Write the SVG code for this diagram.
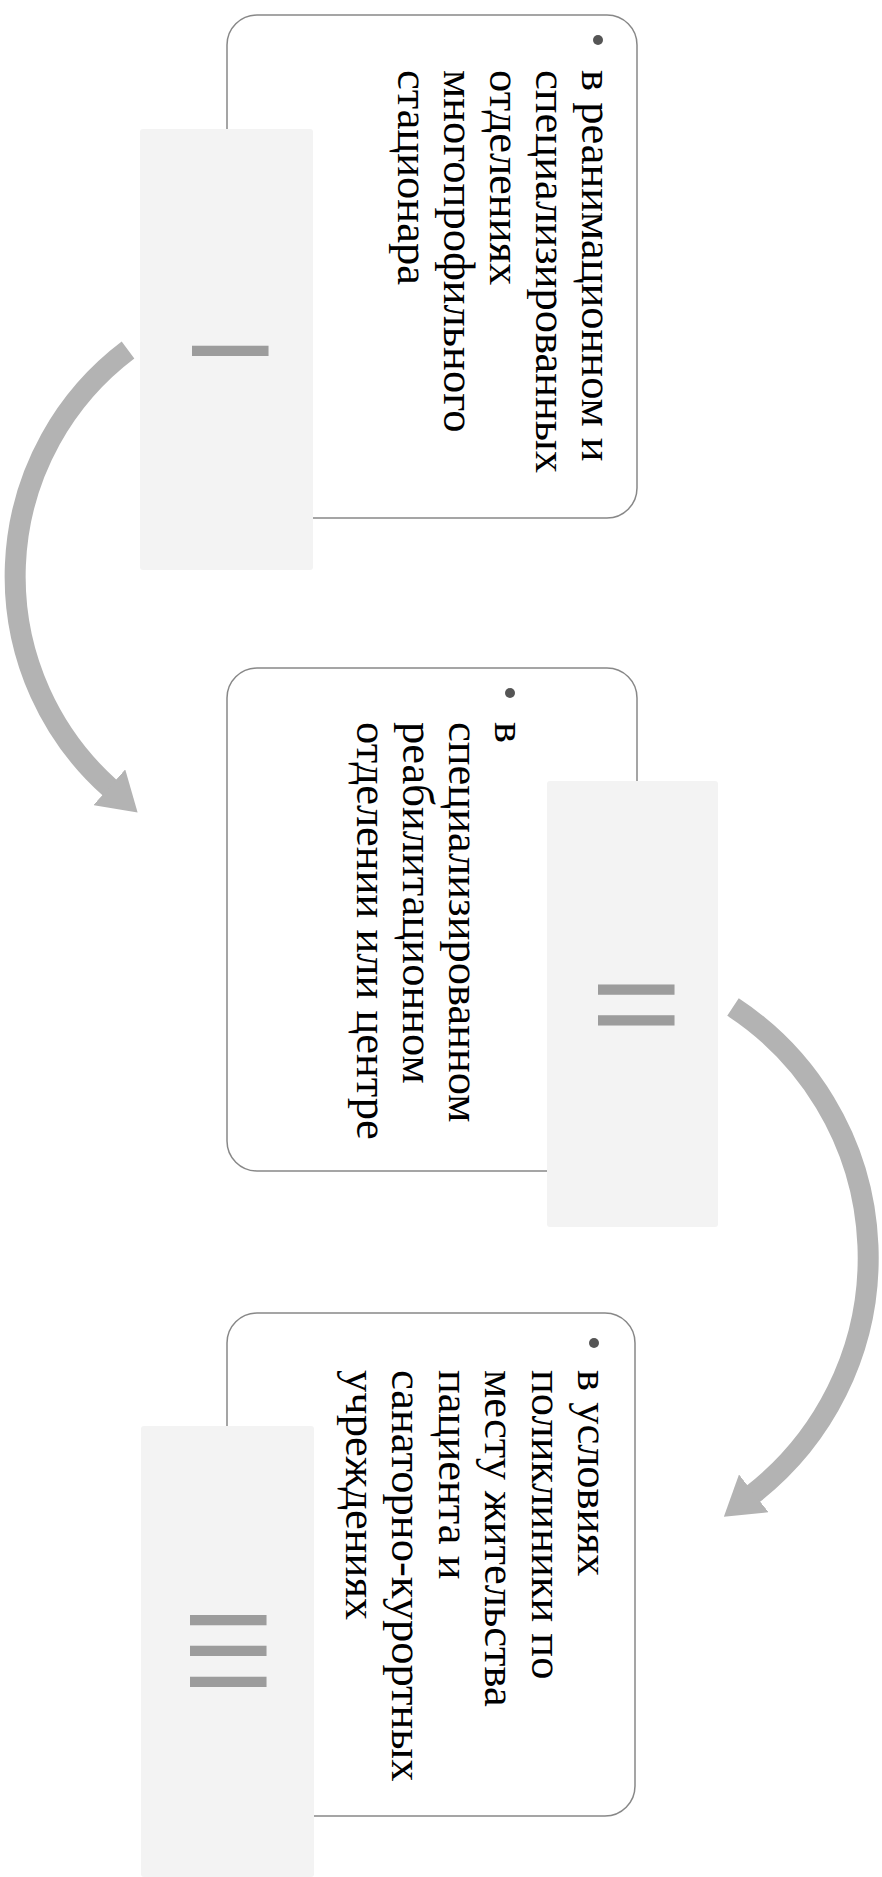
<svg xmlns="http://www.w3.org/2000/svg" width="882" height="1877" viewBox="0 0 882 1877">
<style>
.box{fill:#fff;stroke:#888;stroke-width:1.5}
.panel{fill:#f3f3f3}
.num{font-family:"Liberation Sans",Arial,sans-serif;font-size:111px;fill:#9c9c9c}
.txt{font-family:"Liberation Serif","Times New Roman",serif;font-size:44.5px;fill:#000}
.bullet{fill:#555}
.arrow{fill:none;stroke:#b3b3b3;stroke-width:21}
</style>
<defs>
<marker id="head" markerUnits="userSpaceOnUse" viewBox="0 0 38 48" refX="1" refY="24" markerWidth="38" markerHeight="48" orient="auto">
<path d="M0,0 L38,24 L0,48 Z" fill="#b3b3b3"/>
</marker>
</defs>
<rect width="882" height="1877" fill="#fff"/>
<g id="connectors">
<path class="arrow" d="M 128 350 A 283.5 283.5 0 0 0 110 788" marker-end="url(#head)"/>
<path class="arrow" d="M 733 1007 A 300 300 0 0 1 753 1494" marker-end="url(#head)"/>
</g>
<g id="node1">
<rect class="box" x="227" y="15" width="410" height="503" rx="30"/>
<circle class="bullet" cx="598" cy="40" r="5"/>
<g transform="rotate(90)">
<text class="txt" x="70" y="-582">в реанимационном и</text>
<text class="txt" x="70" y="-536">специализированных</text>
<text class="txt" x="70" y="-490">отделениях</text>
<text class="txt" x="70" y="-444">многопрофильного</text>
<text class="txt" x="70" y="-398">стационара</text>
</g>
</g>
<g id="stage1">
<rect class="panel" x="140" y="129" width="173" height="441" rx="3"/>
<g transform="rotate(90)"><text class="num" x="351" y="-192" text-anchor="middle">I</text></g>
</g>
<g id="node2">
<rect class="box" x="227" y="668" width="410" height="503" rx="30"/>
<circle class="bullet" cx="510" cy="693" r="5"/>
<g transform="rotate(90)">
<text class="txt" x="722" y="-495">в</text>
<text class="txt" x="722" y="-449">специализированном</text>
<text class="txt" x="722" y="-403">реабилитационном</text>
<text class="txt" x="722" y="-357">отделении или центре</text>
</g>
</g>
<g id="stage2">
<rect class="panel" x="547" y="781" width="171" height="446" rx="3"/>
<g transform="rotate(90)"><text class="num" x="1005" y="-598" text-anchor="middle">II</text></g>
</g>
<g id="node3">
<rect class="box" x="227" y="1313" width="408" height="503" rx="30"/>
<circle class="bullet" cx="594" cy="1343" r="5"/>
<g transform="rotate(90)">
<text class="txt" x="1370" y="-578">в условиях</text>
<text class="txt" x="1370" y="-532">поликлиники по</text>
<text class="txt" x="1370" y="-485">месту жительства</text>
<text class="txt" x="1370" y="-439">пациента и</text>
<text class="txt" x="1370" y="-392">санаторно-курортных</text>
<text class="txt" x="1370" y="-346">учреждениях</text>
</g>
</g>
<g id="stage3">
<rect class="panel" x="141" y="1426" width="173" height="451" rx="3"/>
<g transform="rotate(90)"><text class="num" x="1651" y="-190" text-anchor="middle">III</text></g>
</g>
</svg>
